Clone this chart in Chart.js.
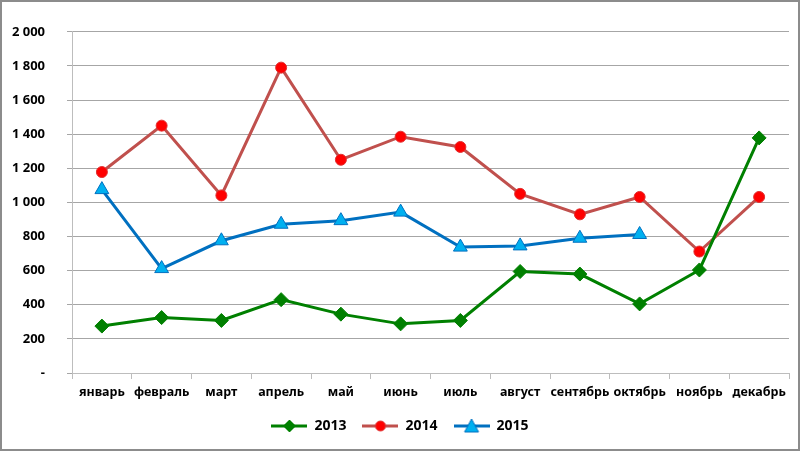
<!DOCTYPE html>
<html>
<head>
<meta charset="utf-8">
<script src="https://cdn.jsdelivr.net/npm/chart.js@4.4.1/dist/chart.umd.min.js"></script>
<style>
  html, body { margin: 0; padding: 0; background: #fff; }
  #wrap { width: 800px; height: 451px; box-sizing: border-box; border: 2px solid #8c8c8c; position: relative; }
  canvas { display: block; }
</style>
</head>
<body>
<div id="wrap"><canvas id="c" width="796" height="447"></canvas></div>
<script>
const categories = ["январь","февраль","март","апрель","май","июнь","июль","август","сентябрь","октябрь","ноябрь","декабрь"];
const series2013 = [275, 325, 308, 430, 345, 288, 308, 595, 580, 405, 604, 1378];
const series2014 = [1178, 1450, 1041, 1790, 1250, 1385, 1325, 1050, 930, 1032, 712, 1032];
const series2015 = [1075, 612, 775, 872, 893, 943, 738, 745, 790, 812, null, null];
const seriesNames = ["2013", "2014", "2015"];
const yTicks = { min: 0, max: 2000, step: 200 };

const FONT = "'Noto Sans', 'DejaVu Sans', sans-serif";

const styles = [
  { line: '#008000', fill: '#008000', stroke: '#008000', shape: 'rectRot', r: 7 },
  { line: '#C0504D', fill: '#FF0000', stroke: '#E03030', shape: 'circle', r: 5.5 },
  { line: '#0070C0', fill: '#00B0F0', stroke: '#0070C0', shape: 'triangle', r: 8 }
];

function legendIcon(s) {
  const cv = document.createElement('canvas');
  cv.width = 36; cv.height = 16;
  const g = cv.getContext('2d');
  g.strokeStyle = s.line; g.lineWidth = 3;
  g.beginPath(); g.moveTo(0, 8); g.lineTo(36, 8); g.stroke();
  g.fillStyle = s.fill; g.strokeStyle = s.stroke; g.lineWidth = 1;
  g.beginPath();
  if (s.shape === 'rectRot') {
    g.moveTo(18, 2); g.lineTo(24, 8); g.lineTo(18, 14); g.lineTo(12, 8); g.closePath();
  } else if (s.shape === 'circle') {
    g.arc(18, 8, 5, 0, Math.PI * 2);
  } else {
    g.moveTo(18, 1); g.lineTo(25, 14); g.lineTo(11, 14); g.closePath();
  }
  g.fill(); g.stroke();
  return cv;
}
const icons = styles.map(legendIcon);

const dataArrays = [series2013, series2014, series2015];
const datasets = dataArrays.map((d, i) => ({
  label: seriesNames[i],
  data: d,
  borderColor: styles[i].line,
  backgroundColor: styles[i].fill,
  pointBackgroundColor: styles[i].fill,
  pointBorderColor: styles[i].stroke,
  pointBorderWidth: 1,
  pointStyle: styles[i].shape,
  pointRadius: styles[i].r,
  pointHoverRadius: styles[i].r,
  borderWidth: 3,
  tension: 0,
  spanGaps: false
}));

new Chart(document.getElementById('c'), {
  type: 'line',
  data: { labels: categories, datasets },
  options: {
    responsive: false,
    animation: false,
    devicePixelRatio: 1,
    layout: { padding: { left: 0, right: 0, top: 29, bottom: 6 } },
    plugins: {
      tooltip: { enabled: false },
      legend: {
        position: 'bottom',
        labels: {
          usePointStyle: true,
          pointStyleWidth: 36,
          boxHeight: 14,
          padding: 16,
          color: '#000',
          font: { family: FONT, size: 14, weight: 'bold' },
          generateLabels(chart) {
            const items = Chart.defaults.plugins.legend.labels.generateLabels(chart);
            items.forEach((it, i) => { it.pointStyle = icons[i]; });
            return items;
          }
        }
      }
    },
    scales: {
      x: {
        offset: true,
        grid: { display: true, drawOnChartArea: false, drawTicks: true, tickLength: 6, color: '#bdbdbd', offset: true },
        border: { display: true, color: '#bdbdbd', width: 1 },
        ticks: { color: '#000', font: { family: FONT, size: 12.5, weight: 'bold' }, padding: 6, maxRotation: 0, autoSkip: false },
        afterFit(s) { s.height = 30; s.paddingLeft = 0; s.paddingRight = 0; }
      },
      y: {
        min: yTicks.min, max: yTicks.max,
        grid: { color: '#a6a6a6', lineWidth: 1, tickLength: 5, drawTicks: true },
        border: { display: true, color: '#bdbdbd', width: 1 },
        ticks: {
          stepSize: yTicks.step,
          color: '#000',
          font: { family: FONT, size: 13, weight: 'bold' },
          padding: 22,
          callback(v) {
            if (v === 0) return '-';
            return String(v).replace(/\B(?=(\d{3})+(?!\d))/g, ' ');
          }
        },
        afterFit(s) { s.width = 70; }
      }
    }
  }
});
</script>
</body>
</html>
